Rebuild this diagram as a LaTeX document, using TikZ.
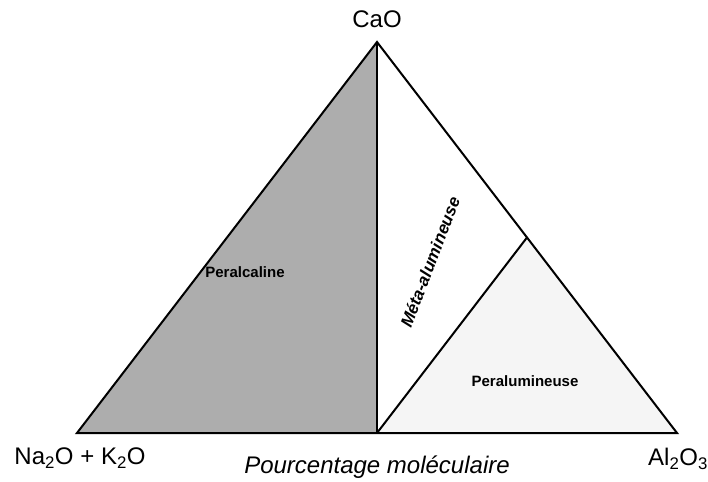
\documentclass[tikz,border=0pt]{standalone}
\usepackage{fontspec}
\setmainfont{Liberation Sans}
\usepackage{tikz}
\usetikzlibrary{calc}

\tikzset{
    corner/.style={font=\fontsize{24}{28}\selectfont},
    field/.style={font=\fontsize{15}{18}\selectfont\bfseries},
}

\begin{document}
\begin{tikzpicture}[x=1pt, y=-1pt]
            \useasboundingbox (0, 0) rectangle (708, 481);

            % Corners
            \coordinate (apex) at (377, 42);
            \coordinate (left) at (77, 433);
            \coordinate (right) at (677, 433);
            \coordinate (base) at (377, 433);
            \coordinate (side) at ($(apex)!0.5!(right)$);

            % Fields
            \fill[black!32] (apex) -- (left) -- (base) -- cycle;
            \fill[black!4] (side) -- (base) -- (right) -- cycle;

            % Triangle
            \draw[line width=2pt, line join=miter] (apex) -- (left) -- (right) -- cycle;
            \draw[line width=2pt] (apex) -- (base);
            \draw[line width=2pt] (base) -- (side);

            % Labels
            \node[corner] (cao) at (377, 19) {CaO};
            \node[corner] (alk) at (80, 458) {Na\textsubscript{2}O + K\textsubscript{2}O};
            \node[corner] (alu) at (678, 459) {Al\textsubscript{2}O\textsubscript{3}};
            \node[corner, font=\fontsize{24}{28}\selectfont\itshape] (axis) at (377, 467) {Pourcentage moléculaire};

            \node[field] (peralc) at (245, 272) {Peralcaline};
            \node[field, font=\fontsize{17}{20}\selectfont\bfseries\itshape, rotate=69] (meta) at (430, 262) {Méta-alumineuse};
            \node[field] (peralu) at (525, 381) {Peralumineuse};
        \end{tikzpicture}
\end{document}
